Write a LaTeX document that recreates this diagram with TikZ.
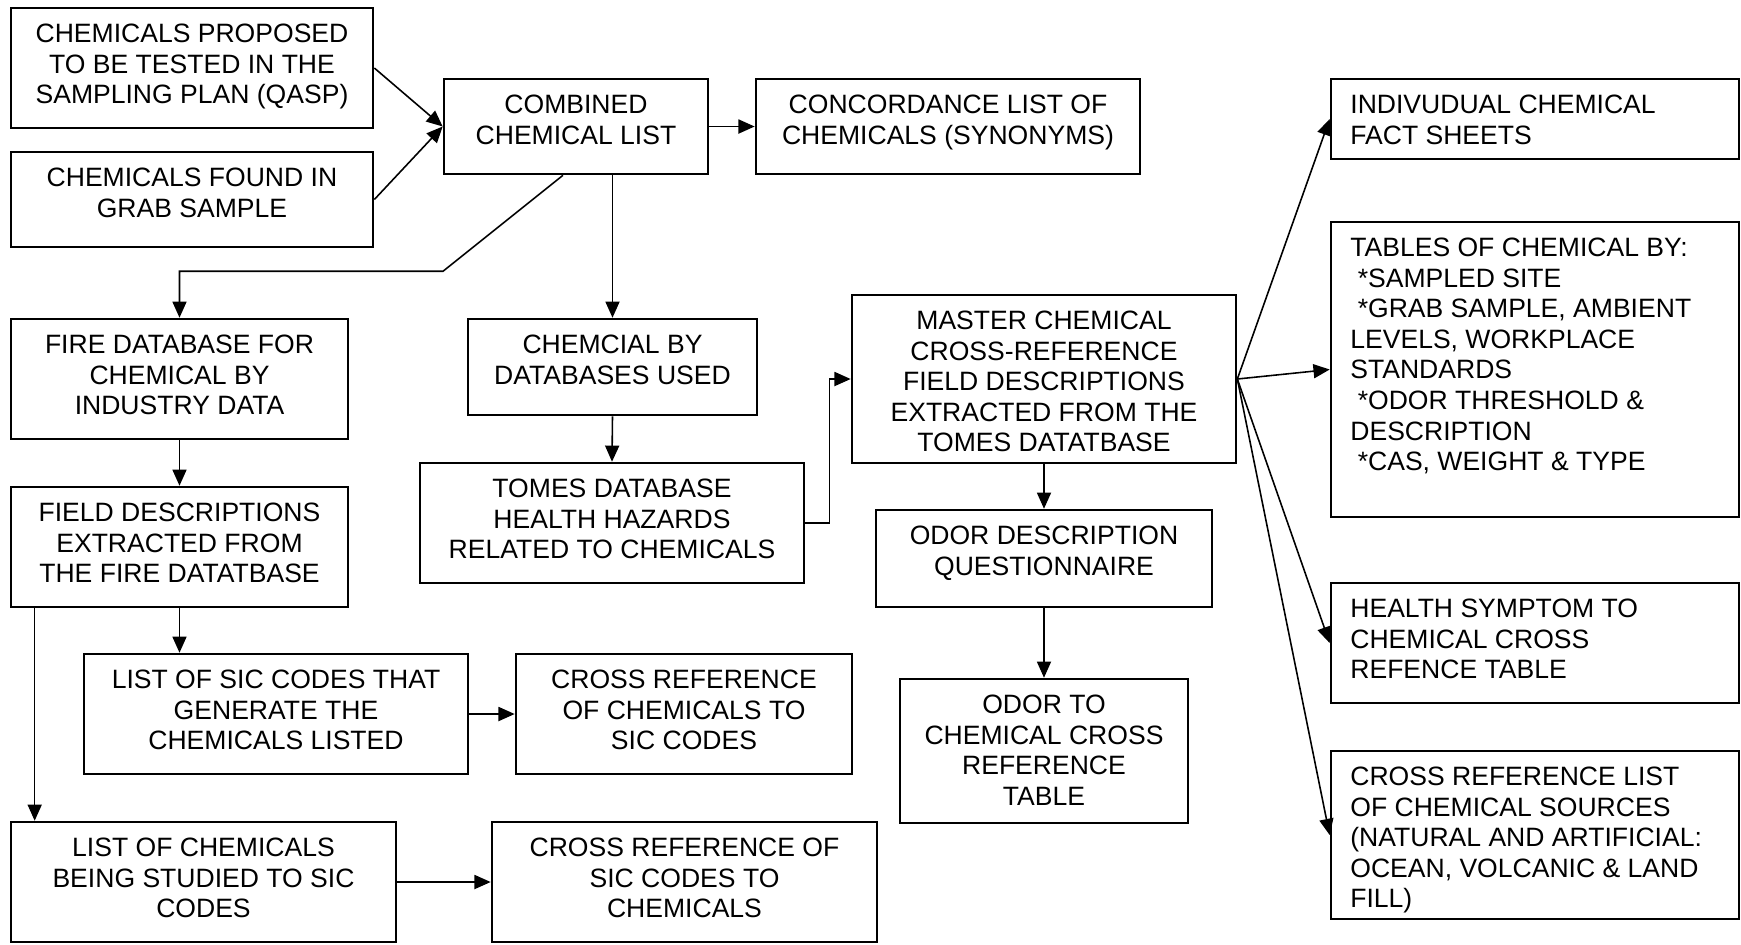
\documentclass[tikz,border=0pt]{standalone}
\usepackage{fontspec}
\setmainfont{Liberation Sans}
\usetikzlibrary{arrows.meta}

\begin{document}
\begin{tikzpicture}[x=0.01cm,y=-0.01cm,font=\fontsize{7.55}{8.7}\selectfont,
  box/.style={draw,line width=0.7pt,inner sep=0pt},
  txt/.style={anchor=north,align=center,inner sep=0pt,yshift=-0.165cm},
  ltxt/.style={anchor=north west,align=left,inner sep=0pt,xshift=0.2cm,yshift=-0.165cm},
  arr/.style={line width=0.45pt,-{Triangle[length=4.6pt,width=4pt]}}]
  \useasboundingbox (0,0) rectangle (1741,944);
  \def\ind{\hspace*{0.28em}}
  % left column
  \node[box,minimum width=3.62cm,minimum height=1.2cm,
    label={[txt]north:{CHEMICALS PROPOSED\\TO BE TESTED IN THE\\SAMPLING PLAN (QASP)}}] (qasp) at (192,68) {};
  \node[box,minimum width=3.62cm,minimum height=0.95cm,
    label={[txt]north:{CHEMICALS FOUND IN\\GRAB SAMPLE}}] (grab) at (192,199.5) {};
  \node[box,minimum width=3.37cm,minimum height=1.2cm,
    label={[txt]north:{FIRE DATABASE FOR\\CHEMICAL BY\\INDUSTRY DATA}}] (fire) at (179.5,379) {};
  \node[box,minimum width=3.37cm,minimum height=1.2cm,
    label={[txt]north:{FIELD DESCRIPTIONS\\EXTRACTED FROM\\THE FIRE DATATBASE}}] (field) at (179.5,547) {};
  \node[box,minimum width=3.84cm,minimum height=1.2cm,
    label={[txt]north:{LIST OF SIC CODES THAT\\GENERATE THE\\CHEMICALS LISTED}}] (lsic) at (276,714) {};
  \node[box,minimum width=3.36cm,minimum height=1.2cm,
    label={[txt]north:{CROSS REFERENCE\\OF CHEMICALS TO\\SIC CODES}}] (xsic) at (684,714) {};
  \node[box,minimum width=3.85cm,minimum height=1.2cm,
    label={[txt]north:{LIST OF CHEMICALS\\BEING STUDIED TO SIC\\CODES}}] (lchem) at (203.5,882) {};
  \node[box,minimum width=3.85cm,minimum height=1.2cm,
    label={[txt]north:{CROSS REFERENCE OF\\SIC CODES TO\\CHEMICALS}}] (xchem) at (684.5,882) {};
  % middle
  \node[box,minimum width=2.64cm,minimum height=0.95cm,
    label={[txt]north:{COMBINED\\CHEMICAL LIST}}] (comb) at (576,126.5) {};
  \node[box,minimum width=3.84cm,minimum height=0.95cm,
    label={[txt]north:{CONCORDANCE LIST OF\\CHEMICALS (SYNONYMS)}}] (conc) at (948,126.5) {};
  \node[box,minimum width=2.89cm,minimum height=0.96cm,
    label={[txt]north:{CHEMCIAL BY\\DATABASES USED}}] (chby) at (612.5,367) {};
  \node[box,minimum width=3.84cm,minimum height=1.2cm,
    label={[txt]north:{TOMES DATABASE\\HEALTH HAZARDS\\RELATED TO CHEMICALS}}] (tomes) at (612,523) {};
  \node[box,minimum width=3.84cm,minimum height=1.68cm,
    label={[txt]north:{MASTER CHEMICAL\\CROSS-REFERENCE\\FIELD DESCRIPTIONS\\EXTRACTED FROM THE\\TOMES DATATBASE}}] (master) at (1044,379) {};
  \node[box,minimum width=3.36cm,minimum height=0.97cm,
    label={[txt]north:{ODOR DESCRIPTION\\QUESTIONNAIRE}}] (odesc) at (1044,558.5) {};
  \node[box,minimum width=2.88cm,minimum height=1.44cm,
    label={[txt]north:{ODOR TO\\CHEMICAL CROSS\\REFERENCE\\TABLE}}] (odorto) at (1044,751) {};
  % right column
  \node[box,minimum width=4.08cm,minimum height=0.8cm,
    label={[ltxt]north west:{INDIVUDUAL CHEMICAL\\FACT SHEETS}}] (indiv) at (1535,119) {};
  \node[box,minimum width=4.08cm,minimum height=2.95cm,
    label={[ltxt]north west:{TABLES OF CHEMICAL BY:\\\ind*SAMPLED SITE\\\ind*GRAB SAMPLE, AMBIENT\\LEVELS, WORKPLACE\\STANDARDS\\\ind*ODOR THRESHOLD \&\\DESCRIPTION\\\ind*CAS, WEIGHT \& TYPE}}] (tables) at (1535,369.5) {};
  \node[box,minimum width=4.08cm,minimum height=1.2cm,
    label={[ltxt]north west:{HEALTH SYMPTOM TO\\CHEMICAL CROSS\\REFENCE TABLE}}] (health) at (1535,643) {};
  \node[box,minimum width=4.08cm,minimum height=1.68cm,
    label={[ltxt]north west:{CROSS REFERENCE LIST\\OF CHEMICAL SOURCES\\(NATURAL AND ARTIFICIAL:\\OCEAN, VOLCANIC \& LAND\\FILL)}}] (srcs) at (1535,835) {};
  % connectors
  \draw[arr] (qasp.east) -- (comb.west);
  \draw[arr] (grab.east) -- (comb.west);
  \draw[arr] (comb.east) -- (conc.west);
  \draw[arr] ([xshift=-0.13cm]comb.south) -- ++(-120,96) -| (fire.north);
  \draw[arr] (comb.south -| chby.north) -- (chby.north);
  \draw[arr] (chby.south) -- (tomes.north);
  \draw[arr] (tomes.east) -- ++(24,0) |- (master.west);
  \draw[arr] (master.east) -- (indiv.west);
  \draw[arr] (master.east) -- (tables.west);
  \draw[arr] (master.east) -- (health.west);
  \draw[arr] (master.east) -- (srcs.west);
  \draw[arr] (master.south) -- (odesc.north);
  \draw[arr] (odesc.south) -- (odorto.north);
  \draw[arr] (fire.south) -- (field.north);
  \draw[arr] (field.south) -- (field.south |- lsic.north);
  \coordinate (fd) at ([xshift=0.25cm]field.south west);
  \draw[arr] (fd) -- (fd |- lchem.north);
  \draw[arr] (lsic.east) -- (xsic.west);
  \draw[arr] (lchem.east) -- (xchem.west);
\end{tikzpicture}
\end{document}
